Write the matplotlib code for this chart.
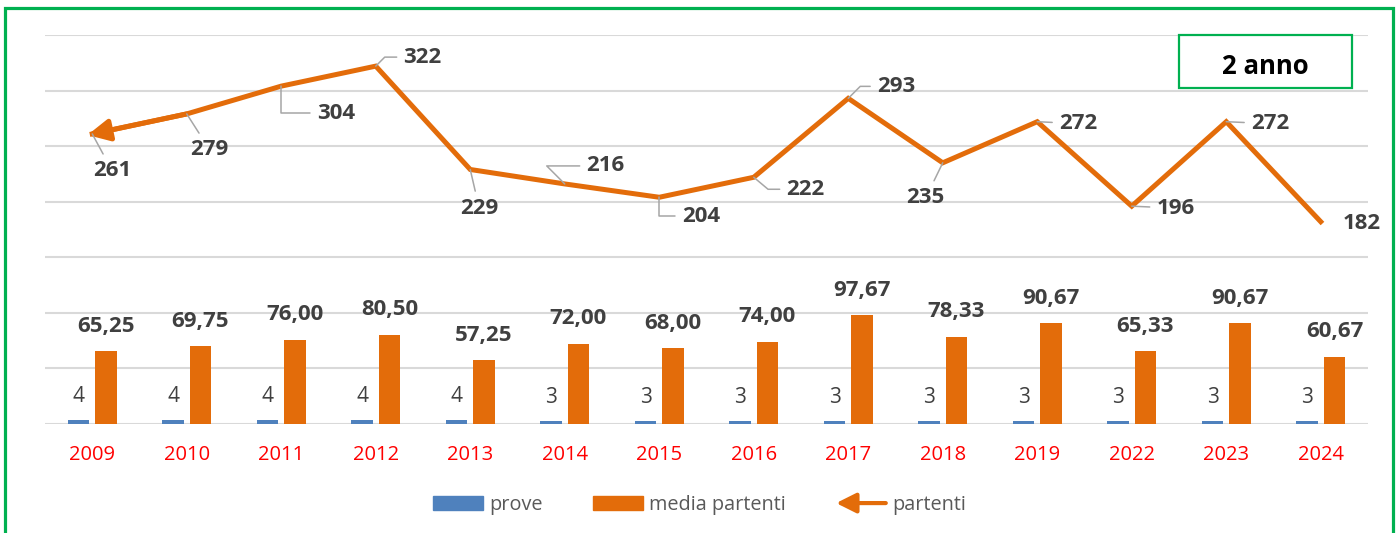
import numpy as np
import matplotlib
matplotlib.use("Agg")
import matplotlib.pyplot as plt
from matplotlib.patches import Rectangle, FancyArrowPatch, Patch
from matplotlib.legend_handler import HandlerBase

plt.rcParams["font.family"] = ["Open Sans", "DejaVu Sans"]

anni = ["2009", "2010", "2011", "2012", "2013", "2014", "2015",
        "2016", "2017", "2018", "2019", "2022", "2023", "2024"]
prove = [4, 4, 4, 4, 4, 3, 3, 3, 3, 3, 3, 3, 3, 3]
media_partenti = [65.25, 69.75, 76.00, 80.50, 57.25, 72.00, 68.00,
                  74.00, 97.67, 78.33, 90.67, 65.33, 90.67, 60.67]
partenti = [261, 279, 304, 322, 229, 216, 204, 222, 293, 235, 272, 196, 272, 182]

# label offsets (pixels) and leader style for the "partenti" line
lab_off = [(20, -37), (23, -36), (55, -27), (47, 9), (9, -39), (41, 18), (42, -19),
           (52, -12), (48, 12), (-17, -35), (41, -2), (44, -2), (44, -2), (41, -2)]
leader = ["arc3", "arc3", "angle,angleA=0,angleB=90", "angle,angleA=0,angleB=45",
          "arc3", "angle,angleA=0,angleB=-45", "angle,angleA=0,angleB=90",
          "angle,angleA=0,angleB=-40", "angle,angleA=0,angleB=45", "arc3",
          "arc3", "arc3", "arc3", None]

BLUE = "#4F81BD"
ORANGE = "#E36C0A"
GRID = "#D9D9D9"
TXT = "#404040"
GREEN = "#00B050"

fig = plt.figure(figsize=(13.99, 5.33), dpi=100)
ax = fig.add_axes([45 / 1399, 109 / 533, 1323 / 1399, 389 / 533])

x = np.arange(len(anni))
w = 0.23
ax.bar(x - 0.145, prove, w, color=BLUE, zorder=2)
ax.bar(x + 0.145, media_partenti, w, color=ORANGE, zorder=2)

for i in range(len(anni)):
    ax.annotate(str(prove[i]), (x[i] - 0.145, prove[i]), xytext=(0, 23),
                textcoords="offset pixels", ha="center", va="center",
                fontsize=15, color=TXT)
    ax.annotate(f"{media_partenti[i]:.2f}".replace(".", ","),
                (x[i] + 0.145, media_partenti[i]), xytext=(0, 25),
                textcoords="offset pixels", ha="center", va="center",
                fontsize=16, fontweight="bold", color=TXT)

ax.plot(x, partenti, color=ORANGE, lw=3.6, zorder=3, solid_joinstyle="miter")
ax.annotate("", xy=(x[0] - 0.05, partenti[0] - 1), xytext=(x[1], partenti[1]),
            arrowprops=dict(arrowstyle="-|>,head_length=1.3,head_width=0.65",
                            mutation_scale=10, color=ORANGE, lw=3.6,
                            shrinkA=0, shrinkB=0), zorder=4)

for i in range(len(anni)):
    props = None
    if leader[i] is not None:
        props = dict(arrowstyle="-", color="#A6A6A6", lw=1.1,
                     connectionstyle=leader[i], shrinkA=3, shrinkB=0)
    ax.annotate(str(partenti[i]), (x[i], partenti[i]), xytext=lab_off[i],
                textcoords="offset pixels", ha="center", va="center",
                fontsize=16, fontweight="bold", color=TXT,
                arrowprops=props, zorder=5)

ax.set_xlim(-0.5, len(anni) - 0.5)
ax.set_ylim(0, 350)
ax.set_yticks(np.arange(0, 351, 50))
ax.yaxis.grid(True, color=GRID, lw=1.5, zorder=0)
ax.set_axisbelow(True)
ax.tick_params(axis="y", length=0, labelleft=False)
ax.set_xticks(x)
ax.set_xticklabels(anni, color="#FF0000", fontsize=14.5)
ax.tick_params(axis="x", length=0, pad=15)
for s in ax.spines.values():
    s.set_visible(False)


class ArrowHandler(HandlerBase):
    def create_artists(self, legend, orig_handle, xdescent, ydescent,
                       width, height, fontsize, trans):
        y = height / 2 - ydescent
        a = FancyArrowPatch((width - xdescent, y), (-xdescent, y),
                            arrowstyle="-|>,head_length=1.2,head_width=0.6",
                            mutation_scale=10, color=ORANGE, lw=3,
                            shrinkA=0, shrinkB=0, transform=trans)
        return [a]


arrow_handle = object()
handles = [Patch(color=BLUE), Patch(color=ORANGE), arrow_handle]
fig.legend(handles, ["prove", "media partenti", "partenti"],
           loc="center", bbox_to_anchor=(0.5, 28 / 533), ncol=3, frameon=False,
           fontsize=14.3, labelcolor="#595959", handlelength=2.5, handleheight=0.75,
           handletextpad=0.3, columnspacing=2.55,
           handler_map={arrow_handle: ArrowHandler()})

# outer frame and title box
fig.patches.append(Rectangle((5 / 1399, -0.05), 1388 / 1399, 1.05 - 8 / 533,
                             transform=fig.transFigure, fill=False,
                             edgecolor=GREEN, lw=2.3))
fig.patches.append(Rectangle((1179 / 1399, 445 / 533), 173 / 1399, 53 / 533,
                             transform=fig.transFigure, facecolor="white",
                             edgecolor=GREEN, lw=1.6, zorder=5))
fig.text(1265 / 1399, 467 / 533, "2 anno", ha="center", va="center",
         fontsize=18.5, fontweight="bold", color="black", zorder=6)

fig.savefig("out.png", dpi=100)
